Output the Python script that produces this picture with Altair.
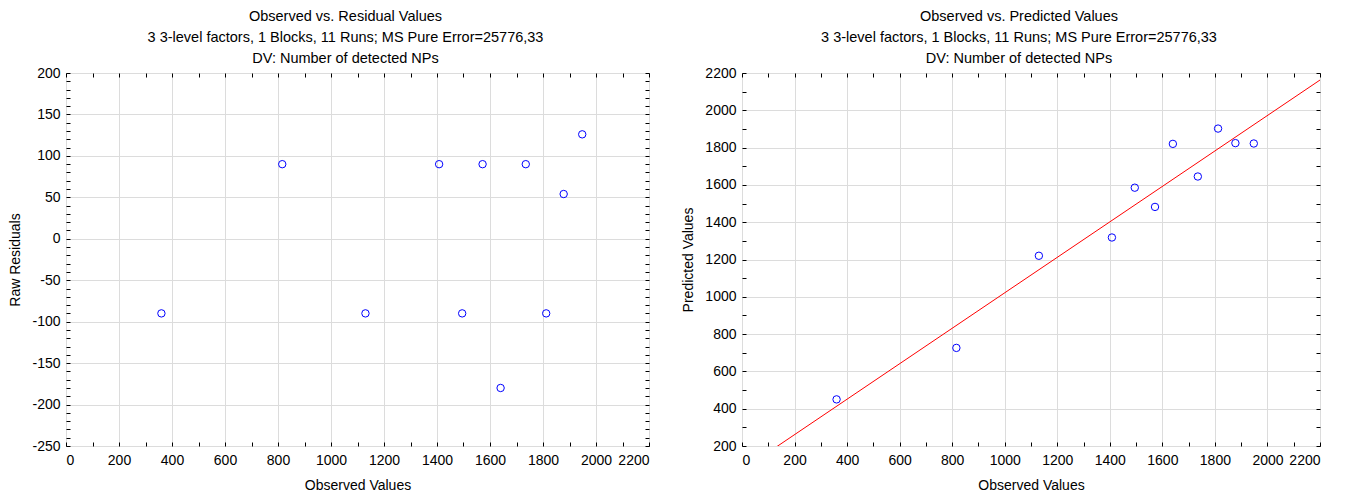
import altair as alt
import pandas as pd

observed = [360, 816, 1130, 1408, 1495, 1572, 1640, 1735, 1812, 1878, 1948]
residuals = [-90, 90, -90, 90, -90, 90, -180, 90, -90, 54, 126]
predicted = [450, 726, 1220, 1318, 1585, 1482, 1820, 1645, 1902, 1824, 1822]

x_major = list(range(0, 2201, 200))
x_minor = list(range(0, 2201, 100))
res_major = list(range(-250, 201, 50))
res_minor = list(range(-250, 201, 10))
pred_major = list(range(200, 2201, 200))
pred_minor = list(range(200, 2201, 100))

subtitle = "3 3-level factors, 1 Blocks, 11 Runs; MS Pure Error=25776,33"
dv = "DV: Number of detected NPs"

df = pd.DataFrame({"Observed": observed, "Residual": residuals, "Predicted": predicted})

FONT = "Liberation Sans"
BLUE = "#0000ff"
PLAIN = "'' + datum.value"


def minor_axis(orient, values):
    return alt.Axis(orient=orient, values=values, labels=False, grid=False, domain=False,
                    ticks=True, tickSize=4, offset=-4, tickColor="black", title=None)


def panel(ycol, ydom, ymajor, yminor, ytitle, title, width, fit=False):
    xs = alt.Scale(domain=[0, 2200], nice=False, zero=False)
    ys = alt.Scale(domain=ydom, nice=False, zero=False)
    base = alt.Chart(df)
    main = base.mark_point(shape="circle", filled=False, color=BLUE, size=55, strokeWidth=1, opacity=1).encode(
        x=alt.X("Observed:Q", scale=xs,
                axis=alt.Axis(values=x_major, title="Observed Values", grid=True, ticks=False,
                              domain=False, labelPadding=7, titlePadding=11, labelExpr=PLAIN)),
        y=alt.Y(f"{ycol}:Q", scale=ys,
                axis=alt.Axis(values=ymajor, title=ytitle, grid=True, ticks=False,
                              domain=False, labelPadding=6, titlePadding=9, labelExpr=PLAIN)),
    )
    top = base.mark_point(opacity=0).encode(
        x=alt.X("Observed:Q", scale=xs, axis=minor_axis("top", x_minor)),
        y=alt.Y(f"{ycol}:Q", scale=ys, axis=minor_axis("right", yminor)),
    )
    bot = base.mark_point(opacity=0).encode(
        x=alt.X("Observed:Q", scale=xs, axis=minor_axis("bottom", x_minor)),
        y=alt.Y(f"{ycol}:Q", scale=ys, axis=minor_axis("left", yminor)),
    )
    layers = [main, top, bot]
    if fit:
        line = base.transform_regression("Observed", "Predicted", extent=[0, 2200]).mark_line(
            color="#ff0000", strokeWidth=1, clip=True).encode(
            x=alt.X("Observed:Q", scale=xs, axis=None),
            y=alt.Y("Predicted:Q", scale=ys, axis=None),
        )
        layers = [line] + layers
    return alt.layer(*layers).resolve_axis(x="independent", y="independent").properties(
        width=width, height=373,
        title=alt.TitleParams(text=[title, subtitle, dv], fontSize=14.5, font=FONT, fontWeight="normal",
                              lineHeight=21, anchor="middle", dx=-12, offset=0, color="black"),
    )


left = panel("Residual", [-250, 200], res_major, res_minor, "Raw Residuals",
             "Observed vs. Residual Values", 583)
right = panel("Predicted", [200, 2200], pred_major, pred_minor, "Predicted Values",
              "Observed vs. Predicted Values", 578, fit=True)

chart = alt.hconcat(left, right, spacing=31).properties(
    padding={"left": 0, "top": 0, "right": 5, "bottom": 5}
).configure_view(stroke="black", strokeWidth=1).configure_axis(
    labelFont=FONT, titleFont=FONT, labelFontSize=14, titleFontSize=14, titleFontWeight="normal",
    labelColor="black", titleColor="black", gridColor="#dcdcdc", gridWidth=1
)

chart.save("out.html", embed_options={"renderer": "svg", "actions": False})
